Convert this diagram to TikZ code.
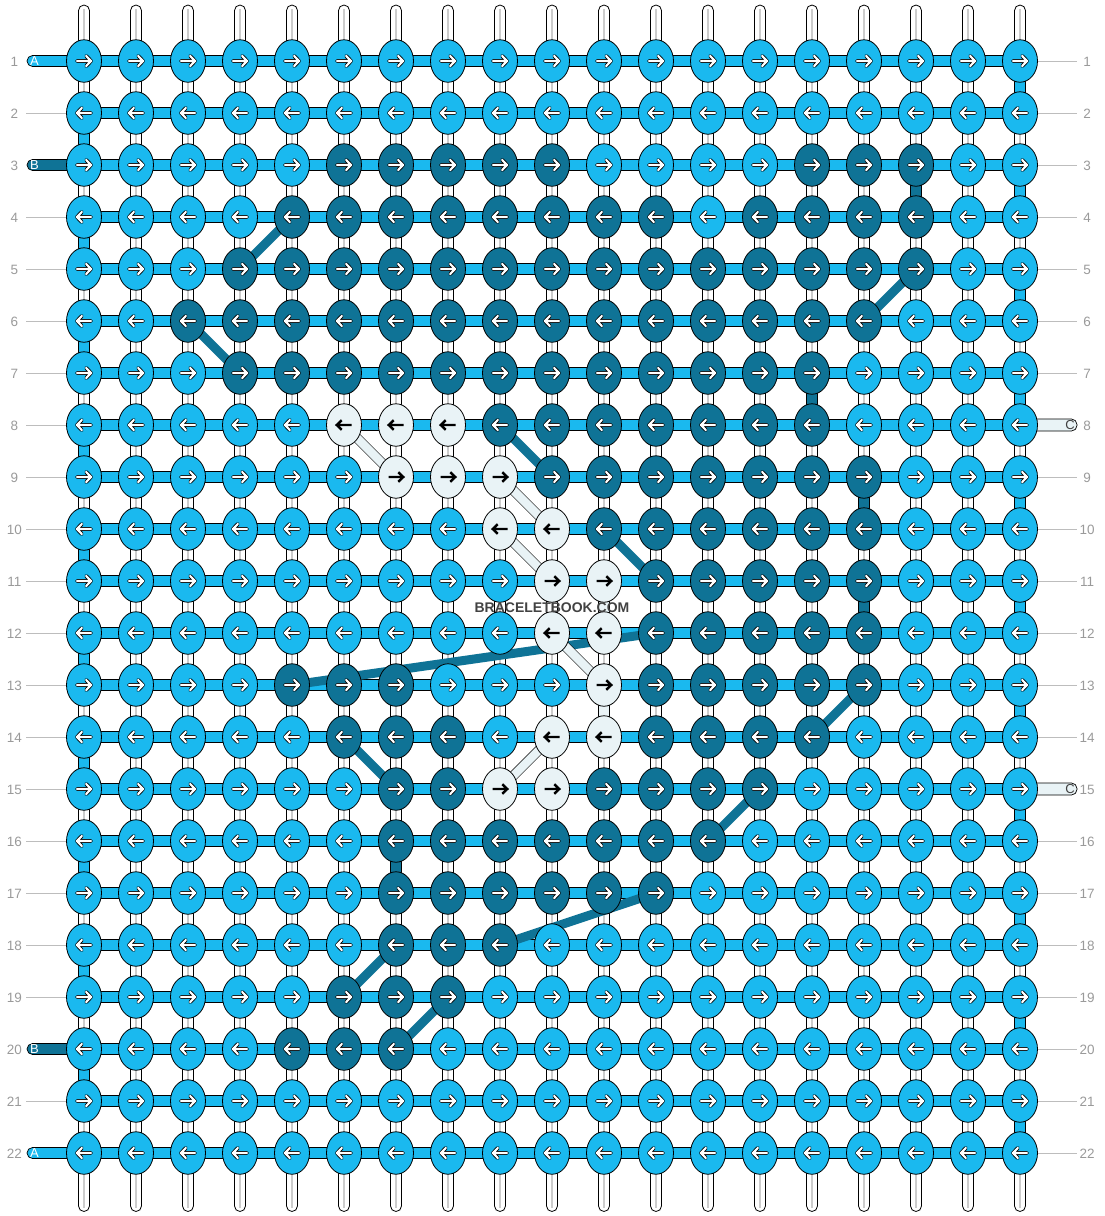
\documentclass[tikz,border=0pt]{standalone}
\usepackage{fontspec}
\setmainfont{Liberation Sans}
\usetikzlibrary{shapes.geometric}
\definecolor{colA}{HTML}{1AB9EF}
\definecolor{colB}{HTML}{0F7396}
\definecolor{colC}{HTML}{E9F3F6}
\definecolor{numgray}{HTML}{9A9A9A}
\definecolor{linegray}{HTML}{BDBDBD}
\definecolor{wmgray}{HTML}{424242}
\pgfdeclarelayer{strings}
\pgfdeclarelayer{links}
\pgfdeclarelayer{top}
\pgfsetlayers{strings,links,main,top}
\tikzset{
  knot/.style={ellipse, draw=black, line width=0.8pt, minimum width=35pt, minimum height=42.5pt, inner sep=0pt},
  warp/.style={draw=black, fill=white, line width=0.8pt, rounded corners=5.5pt},
  warpmid/.style={draw=gray!40, line width=1.5pt},
  bar/.style={draw=black, fill=colA, line width=0.7pt},
  vseg/.style={draw=black, line width=0.7pt},
  bdiag/.style={draw=colB, line width=9pt},
  cdiag/.style={draw=black, line width=0.6pt, double=colC, double distance=8.5pt},
  lead/.style={draw=black, line width=0.7pt, rounded corners=5.5pt},
  numlbl/.style={text=numgray, font=\fontsize{13.5}{15}\selectfont, inner sep=0pt},
  leadlbl/.style={font=\fontsize{13}{15}\selectfont, inner sep=0pt},
  numline/.style={draw=linegray, line width=1pt},
  arrout/.style={draw=black, line width=3.8pt, line cap=round, line join=round},
  arrin/.style={draw=white, line width=2.2pt, line cap=round, line join=round},
  arrdark/.style={draw=black, line width=2.4pt, line cap=butt, line join=miter},
}
\begin{document}
\begin{tikzpicture}[x=1pt,y=-1pt]
\useasboundingbox (0,0) rectangle (1104,1216);
% colour map of the knots (A is the default)
\foreach \r/\a/\b in {3/6/10,3/15/17,4/5/12,4/14/17,5/4/17,6/3/16,7/4/15,8/9/15,9/10/16,10/11/16,11/12/16,12/12/16,13/5/7,13/12/16,14/6/8,14/12/15,15/7/8,15/11/14,16/7/13,17/7/12,18/7/9,19/6/8,20/5/7}
  {\foreach \c in {\a,...,\b}{\expandafter\gdef\csname kc-\r-\c\endcsname{B}}}
\foreach \r/\a/\b in {8/6/8,9/7/9,10/9/10,11/10/11,12/10/11,13/11/11,14/10/11,15/9/10}
  {\foreach \c in {\a,...,\b}{\expandafter\gdef\csname kc-\r-\c\endcsname{C}}}
\def\tmpC{C}
% knots
\foreach \r in {1,...,22}{
  \foreach \c in {1,...,19}{
    \ifcsname kc-\r-\c\endcsname\edef\kk{\csname kc-\r-\c\endcsname}\else\def\kk{A}\fi
    \edef\kfill{col\kk}
    \node[knot, fill=\kfill] (k-\r-\c) at ({84+52*(\c-1)},{61+52*(\r-1)}) {};
    \ifodd\r\def\dir{1}\else\def\dir{-1}\fi
    \ifx\kk\tmpC
      \draw[arrdark, shift={(k-\r-\c.center)}, xscale=\dir] (-7.5,0)--(7,0) (2.3,-4.8)--(7.3,0)--(2.3,4.8);
    \else
      \draw[arrout, shift={(k-\r-\c.center)}, xscale=\dir] (-7,0)--(7,0) (2.2,-5)--(7,0)--(2.2,5);
      \draw[arrin, shift={(k-\r-\c.center)}, xscale=\dir] (-7,0)--(7,0) (2.2,-5)--(7,0)--(2.2,5);
    \fi
  }
}
% warp strings
\begin{pgfonlayer}{strings}
\foreach \c in {1,...,19}{
  \pgfmathsetmacro\xx{84+52*(\c-1)}
  \draw[warp] ({\xx-5.5},5) rectangle ({\xx+5.5},1211.5);
  \draw[warpmid] (\xx,9) -- (\xx,1207.5);
}
\end{pgfonlayer}
\begin{pgfonlayer}{links}
% number lines
\foreach \r in {2,4,5,6,7,8,9,10,11,12,13,14,15,16,17,18,19,21}{
  \pgfmathsetmacro\yy{61+52*(\r-1)}
  \coordinate (ls-\r) at (26,\yy);
  \draw[numline] (ls-\r) -- (k-\r-1.center);
}
\foreach \r in {1,2,3,4,5,6,7,9,10,11,12,13,14,16,17,18,19,20,21,22}{
  \pgfmathsetmacro\yy{61+52*(\r-1)}
  \coordinate (rs-\r) at (1077,\yy);
  \draw[numline] (k-\r-19.center) -- (rs-\r);
}
% horizontal bars
\foreach \r in {1,...,22}{
  \draw[bar] ([yshift=-5.3pt]k-\r-1.center) rectangle ([yshift=5.3pt]k-\r-19.center);
}
% lead strings
\foreach \r/\cl/\tc in {1/A/white,3/B/white,20/B/white,22/A/white}{
  \pgfmathsetmacro\yy{61+52*(\r-1)}
  \draw[lead, fill=col\cl] (27,\yy-5.5) rectangle (84,\yy+5.5);
  \node[leadlbl, text=\tc] (ll-\r) at (34.5,\yy+0.5) {\cl};
}
\foreach \r in {8,15}{
  \pgfmathsetmacro\yy{61+52*(\r-1)}
  \draw[lead, fill=colC] (1020,\yy-6) rectangle (1077,\yy+6);
  \node[leadlbl, text=wmgray] (lr-\r) at (1070,\yy+0.5) {C};
}
% turns of thread A
\foreach \r in {1,3,...,21}{
  \pgfmathtruncatemacro\rn{\r+1}
  \draw[vseg, fill=colA] ([xshift=-5.5pt]k-\r-19.center) rectangle ([xshift=5.5pt]k-\rn-19.center);
}
\foreach \r in {2,4,...,20}{
  \pgfmathtruncatemacro\rn{\r+1}
  \draw[vseg, fill=colA] ([xshift=-5.5pt]k-\r-1.center) rectangle ([xshift=5.5pt]k-\rn-1.center);
}
% vertical links of B and C
\foreach \r/\c/\cl in {3/17/B,7/15/B,9/16/B,11/16/B,16/7/B,11/11/C,13/11/C}{
  \pgfmathtruncatemacro\rn{\r+1}
  \draw[vseg, fill=col\cl] ([xshift=-5.5pt]k-\r-\c.center) rectangle ([xshift=5.5pt]k-\rn-\c.center);
}
% diagonal links of B
\foreach \ra/\ca/\rb/\cb in {4/5/5/4,5/17/6/16,6/3/7/4,8/9/9/10,10/11/11/12,12/12/13/5,13/16/14/15,14/6/15/7,15/14/16/13,17/12/18/9,18/7/19/6,19/8/20/7}{
  \draw[bdiag] (k-\ra-\ca.center) -- (k-\rb-\cb.center);
}
% diagonal links of C
\foreach \ra/\ca/\rb/\cb in {8/6/9/7,9/9/10/10,10/9/11/10,12/10/13/11,14/10/15/9}{
  \draw[cdiag] (k-\ra-\ca.center) -- (k-\rb-\cb.center);
}
\end{pgfonlayer}
% row numbers
\foreach \r in {1,...,22}{
  \pgfmathsetmacro\yy{61+52*(\r-1)}
  \node[numlbl] (nl-\r) at (14.5,\yy+0.5) {\r};
  \node[numlbl] (nr-\r) at (1087,\yy+0.5) {\r};
}
\begin{pgfonlayer}{top}
\node[text=wmgray, font=\bfseries\fontsize{14}{16}\selectfont, inner sep=0pt] (wm) at (552,607.5) {BRACELETBOOK.COM};
\end{pgfonlayer}
\end{tikzpicture}
\end{document}
